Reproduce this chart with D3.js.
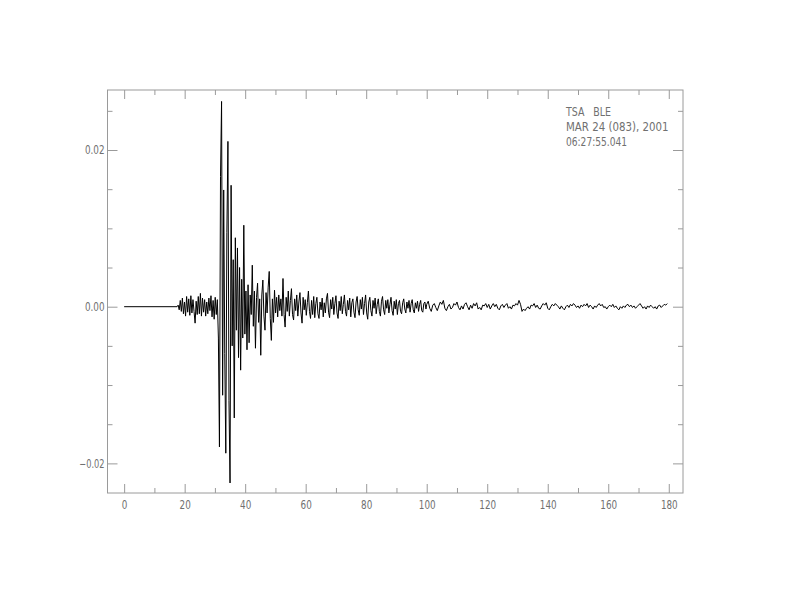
<!DOCTYPE html>
<html><head><meta charset="utf-8">
<script src="https://cdn.jsdelivr.net/npm/d3@7"></script>
<style>
body{margin:0;background:#fff}
text{font-family:"DejaVu Sans Condensed","Liberation Sans Narrow","Liberation Sans",sans-serif;}
</style>
</head><body><svg id="c" width="792" height="612"></svg>
<script>
// ---- data ----
const xMajorTicks = [0,20,40,60,80,100,120,140,160,180];
const xMinorTicks = [10,30,50,70,90,110,130,150,170];
const yMajorTicks = [-0.02,0.00,0.02];
const yMajorLabels = ["\u22120.02","0.00","0.02"];
const yMinorTicks = [-0.015,-0.01,-0.005,0.005,0.01,0.015,0.025];
const headerLines = ["TSA   BLE","MAR 24 (083), 2001","06:27:55.041"];

const quietTimes = [0, 17.5];
const quietValues = [0, 0];

const burstStart = 17.5, burstStep = 0.35;
const burstValues = [
0.0000,0.0002,-0.0004,0.0008,-0.0006,0.0011,-0.0009,0.0006,-0.0012,0.0013,
-0.0007,0.0010,-0.0011,0.0014,-0.0008,0.0009,-0.0006,-0.0021,0.0007,-0.0010,
0.0013,-0.0009,0.0017,-0.0012,0.0011,-0.0007,0.0009,-0.0012,0.0006,-0.0009,
0.0011,-0.0005,0.0014,-0.0013,0.0008,-0.0016,0.0012,-0.0010,0.0009,-0.0040,
-0.0179,0.0166,0.0262,-0.0113,0.0149,-0.0060,-0.0187,0.0095,0.0211,-0.0120,
-0.0225,0.0155,-0.0050,0.0060,-0.0142,0.0088,-0.0030,0.0075,-0.0065,0.0050,
-0.0081,0.0035,-0.0040,0.0104,-0.0035,0.0020,-0.0055,0.0028,-0.0046,0.0015,
-0.0010,0.0053,-0.0025,0.0020,-0.0053,0.0012,0.0030,-0.0020,0.0010,-0.0062,
0.0015,0.0034,-0.0012,-0.0030,0.0018,-0.0008,0.0025,0.0045,-0.0015,-0.0043,
0.0010,-0.0020,0.0021,-0.0008,0.0012,-0.0013,0.0015,-0.0005,0.0010,-0.0012,
0.0036,-0.0010,-0.0026,0.0012,-0.0006,0.0020,-0.0012,0.0008,0.0023,-0.0010,
-0.0017,0.0010,-0.0005,0.0015,-0.0012,0.0006,0.0018,-0.0008,-0.0021,0.0012,
-0.0004,0.0009,-0.0011,0.0005,0.0020,-0.0006,-0.0015,0.0008,-0.0010,0.0013,
-0.0014,0.0004,0.0012,-0.0009,-0.0015,0.0006,-0.0004,0.0011,-0.0013,0.0005,
-0.0008,0.0010,0.0017,-0.0007,-0.0014,0.0009,-0.0003,0.0012,-0.0010,0.0004,
0.0014,-0.0008,-0.0015,0.0007,-0.0005,0.0013,-0.0009,0.0003,0.0015,-0.0006,
-0.0012,0.0008,-0.0004,0.0011,-0.0013,0.0005,0.0010,-0.0007,-0.0014,0.0006,
0.0013,-0.0004,-0.0011,0.0009,-0.0003,0.0012,-0.0010,0.0004,0.0015,-0.0008,
-0.0016,0.0006,0.0012,-0.0005,-0.0012,0.0008,-0.0002,0.0011,-0.0009,0.0003,
0.0010,-0.0006,-0.0012,0.0007,0.0013,-0.0004,-0.0010,0.0008,-0.0002,0.0009,
-0.0008,0.0003,0.0012,-0.0005,-0.0011,0.0007,-0.0003,0.0009,-0.0010,0.0004,
0.0008,-0.0006,-0.0009,0.0005,0.0010,-0.0003,-0.0008,0.0006,-0.0002,0.0008,
-0.0007,0.0004,0.0009,-0.0004,-0.0008,0.0005,-0.0002,0.0007,-0.0006,0.0003,
0.0008,-0.0005,-0.0007,0.0004,0.0006,-0.0003
];

const codaStart = 100, codaStep = 0.5;
const codaValues = [
0.0003,0.0007,-0.0002,-0.0006,0.0002,0.0004,-0.0001,-0.0005,0.0001,0.0006,
0.0003,0.0008,-0.0002,-0.0005,0.0000,0.0003,-0.0003,-0.0001,0.0004,0.0002,
0.0006,-0.0001,-0.0004,0.0001,-0.0003,0.0003,0.0005,0.0000,-0.0004,0.0002,
-0.0002,0.0004,0.0001,0.0005,-0.0003,-0.0001,-0.0004,0.0002,0.0001,0.0004,
-0.0001,0.0003,-0.0003,0.0001,0.0004,0.0000,0.0003,-0.0002,-0.0004,0.0001,
0.0003,-0.0001,0.0002,0.0004,-0.0002,0.0000,-0.0003,0.0002,0.0001,0.0004,
0.0002,0.0008,0.0003,-0.0006,-0.0003,-0.0005,-0.0002,0.0000,-0.0003,0.0002,
0.0001,0.0004,-0.0001,0.0002,-0.0002,-0.0003,0.0001,0.0004,0.0002,0.0005,
-0.0002,-0.0004,0.0000,0.0003,0.0001,0.0004,0.0002,0.0000,-0.0003,0.0001,
-0.0002,-0.0004,0.0000,0.0002,-0.0001,0.0003,0.0001,0.0004,0.0002,-0.0001,
0.0001,-0.0002,0.0002,0.0000,0.0003,0.0001,0.0004,-0.0001,0.0002,0.0000,
-0.0003,0.0001,-0.0001,0.0002,0.0004,0.0001,0.0003,-0.0001,0.0000,-0.0003,
0.0000,0.0002,0.0000,0.0003,-0.0001,0.0001,-0.0002,-0.0004,0.0000,-0.0002,
0.0001,-0.0001,0.0002,0.0003,0.0000,0.0002,-0.0001,0.0001,-0.0002,0.0000,
0.0002,0.0004,0.0001,-0.0002,0.0000,-0.0003,0.0001,-0.0001,0.0002,0.0000,
-0.0002,0.0000,-0.0003,0.0001,0.0002,-0.0001,0.0001,0.0003,0.0002,0.0004
];

// ---- build series ----
const series = [];
quietTimes.forEach((t,i)=>series.push([t, quietValues[i]]));
burstValues.forEach((v,i)=>series.push([burstStart + i*burstStep, v]));
codaValues.forEach((v,i)=>series.push([codaStart + i*codaStep, v]));

// ---- layout ----
const svg = d3.select("#c");
const L = 107.5, R = 683, T = 90, B = 493;
const axisColor = "#9a9a9a", textColor = "#707070";

const x = d3.scaleLinear().domain([-5.5, 184.7]).range([L, R]);
const y = d3.scaleLinear().domain([-0.02378, 0.02766]).range([B, T]);

const charW = 5.6, dotW = 2.8;
function labelWidth(s){ let w=0; for(const c of s) w += (c==="." ? dotW : charW); return w; }

function styleAxis(g){
  g.select(".domain").remove();
  g.selectAll(".tick line").attr("stroke", axisColor).attr("stroke-width",1);
  g.selectAll(".tick text").attr("fill", textColor).attr("font-size", 12)
    .attr("lengthAdjust","spacingAndGlyphs")
    .attr("textLength", function(){ return labelWidth(this.textContent); });
}

// bottom
svg.append("g").attr("transform",`translate(0,${B})`)
  .call(d3.axisBottom(x).tickValues(xMajorTicks).tickSize(-9).tickPadding(7).tickFormat(d3.format("d")))
  .call(styleAxis);
svg.append("g").attr("transform",`translate(0,${B})`)
  .call(d3.axisBottom(x).tickValues(xMinorTicks).tickSize(-5).tickFormat(""))
  .call(styleAxis);
// top
svg.append("g").attr("transform",`translate(0,${T})`)
  .call(d3.axisTop(x).tickValues(xMajorTicks).tickSize(-9).tickFormat(""))
  .call(styleAxis);
svg.append("g").attr("transform",`translate(0,${T})`)
  .call(d3.axisTop(x).tickValues(xMinorTicks).tickSize(-5).tickFormat(""))
  .call(styleAxis);
// left
svg.append("g").attr("transform",`translate(${L},0)`)
  .call(d3.axisLeft(y).tickValues(yMajorTicks).tickSize(-10).tickPadding(3)
        .tickFormat((d,i)=>yMajorLabels[i]))
  .call(styleAxis);
svg.append("g").attr("transform",`translate(${L},0)`)
  .call(d3.axisLeft(y).tickValues(yMinorTicks).tickSize(-5).tickFormat(""))
  .call(styleAxis);
// right
svg.append("g").attr("transform",`translate(${R},0)`)
  .call(d3.axisRight(y).tickValues(yMajorTicks).tickSize(-10).tickFormat(""))
  .call(styleAxis);
svg.append("g").attr("transform",`translate(${R},0)`)
  .call(d3.axisRight(y).tickValues(yMinorTicks).tickSize(-5).tickFormat(""))
  .call(styleAxis);

// frame
svg.append("rect").attr("x",L).attr("y",T).attr("width",R-L).attr("height",B-T)
  .attr("fill","none").attr("stroke",axisColor).attr("stroke-width",1);

// trace
svg.append("path").datum(series)
  .attr("fill","none").attr("stroke","#000").attr("stroke-width",1)
  .attr("stroke-linejoin","miter")
  .attr("d", d3.line().x(d=>x(d[0])).y(d=>y(d[1])));

// header text
const headerWidths = [45, 102.5, 61];
svg.append("g").selectAll("text").data(headerLines).join("text")
  .attr("x",566).attr("y",(d,i)=>116 + i*15)
  .attr("fill",textColor).attr("font-size",12.5)
  .attr("xml:space","preserve").style("white-space","pre")
  .attr("lengthAdjust","spacingAndGlyphs")
  .attr("textLength",(d,i)=>headerWidths[i])
  .text(d=>d);
</script>
</body></html>
